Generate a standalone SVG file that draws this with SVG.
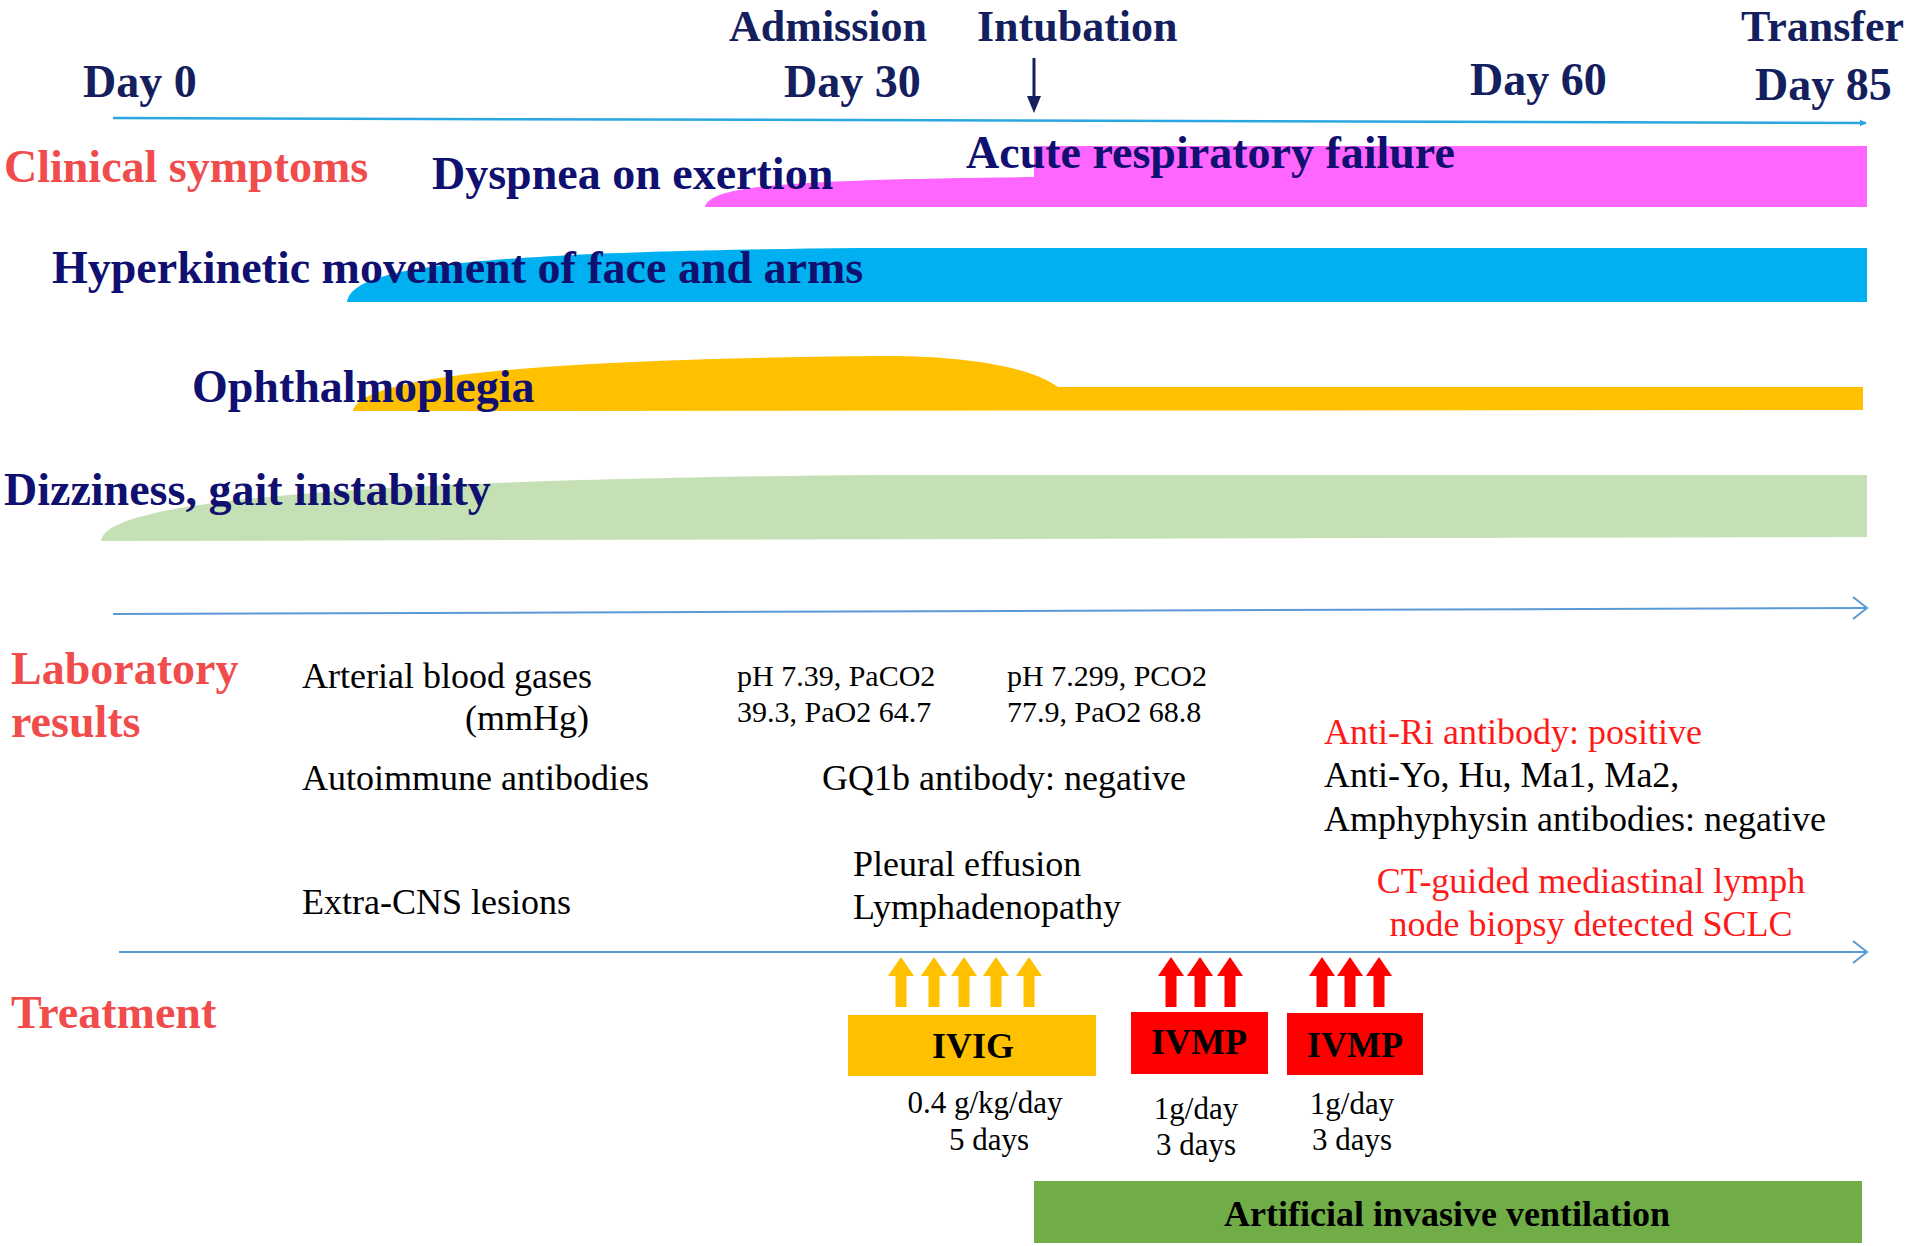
<svg xmlns="http://www.w3.org/2000/svg" width="1907" height="1246" viewBox="0 0 1907 1246">
<defs>
<style>
text{font-family:"Liberation Serif","Times New Roman",serif}
.hd{font-size:46px;font-weight:bold;fill:#14205e}
.top{font-size:44px;font-weight:bold;fill:#14205e}
.sym{font-size:46px;font-weight:bold;fill:#101070}
.sec{font-size:46px;font-weight:bold;fill:#f04c4c}
.lab{font-size:36px;fill:#000}
.val{font-size:30px;fill:#000}
.red{fill:#ff1a1a}
.tr{font-size:36px;font-weight:bold;fill:#000;text-anchor:middle}
.dose{font-size:31px;fill:#000;text-anchor:middle}
.ax1{stroke:#2aa6e0;stroke-width:2.5;fill:none}
.ax2{stroke:#5b9bd5;stroke-width:2;fill:none}
</style>
<marker id="tri" viewBox="0 0 10 10" refX="9" refY="5" markerWidth="7" markerHeight="7" orient="auto" markerUnits="userSpaceOnUse">
<path d="M0,0 L10,5 L0,10 Z" fill="#2aa6e0"/>
</marker>
<symbol id="upO" viewBox="0 0 26 50" overflow="visible">
<path d="M13,0 L26,19 L18.5,19 L18.5,50 L7.5,50 L7.5,19 L0,19 Z"/>
</symbol>
</defs>
<rect width="1907" height="1246" fill="#fff"/>

<g id="bars">
<path id="bar-dyspnea" d="M705,207 C710,186 780,180 1034,177 L1034,146 L1867,146 L1867,207 Z" fill="#ff66ff"/>
<path id="bar-hyper" d="M347,302 C352,268 460,252 860,248 L1867,248 L1867,302 Z" fill="#00b0f0"/>
<path id="bar-ophth" d="M353,411 C360,383 470,360 876,356 C960,355 1030,366 1058,387 L1863,387 L1863,410 Z" fill="#ffc000"/>
<path id="bar-dizzy" d="M101,541 C104,505 300,480 876,475 L1867,475 L1867,537 Z" fill="#c5e0b4"/>
</g>

<g id="connectors">
<line class="ax1" x1="113" y1="118" x2="1866" y2="123" marker-end="url(#tri)"/>
<line x1="1034" y1="58" x2="1034" y2="98" stroke="#14205e" stroke-width="3"/>
<path d="M1027,96 L1041,96 L1034,113 Z" fill="#14205e"/>
<line class="ax2" x1="113" y1="614" x2="1866" y2="608"/>
<polyline class="ax2" points="1853,597 1867,608 1853,619"/>
<line class="ax2" x1="119" y1="952" x2="1866" y2="952"/>
<polyline class="ax2" points="1853,941 1867,952 1853,963"/>
</g>

<g id="timeline-labels">
<text class="top" x="729" y="41">Admission</text>
<text class="top" x="977" y="41">Intubation</text>
<text class="top" x="1904" y="41" text-anchor="end">Transfer</text>
<text class="hd" x="83" y="97">Day 0</text>
<text class="hd" x="784" y="97">Day 30</text>
<text class="hd" x="1470" y="95">Day 60</text>
<text class="hd" x="1755" y="100">Day 85</text>
</g>

<g id="clinical">
<text class="sec" x="4" y="182">Clinical symptoms</text>
<text class="sym" x="432" y="189">Dyspnea on exertion</text>
<text class="sym" x="966" y="168">Acute respiratory failure</text>
<text class="sym" x="52" y="283">Hyperkinetic movement of face and arms</text>
<text class="sym" x="192" y="402">Ophthalmoplegia</text>
<text class="sym" x="4" y="505">Dizziness, gait instability</text>
</g>

<g id="laboratory">
<text class="sec" x="11" y="684">Laboratory</text>
<text class="sec" x="11" y="737">results</text>
<text class="lab" x="302" y="688">Arterial blood gases</text>
<text class="lab" x="589" y="730" text-anchor="end">(mmHg)</text>
<text class="val" x="737" y="686">pH 7.39, PaCO2</text>
<text class="val" x="737" y="722">39.3, PaO2 64.7</text>
<text class="val" x="1007" y="686">pH 7.299, PCO2</text>
<text class="val" x="1007" y="722">77.9, PaO2 68.8</text>
<text class="lab" x="302" y="790">Autoimmune antibodies</text>
<text class="lab" x="822" y="790">GQ1b antibody: negative</text>
<text class="lab red" x="1324" y="744">Anti-Ri antibody: positive</text>
<text class="lab" x="1324" y="787">Anti-Yo, Hu, Ma1, Ma2,</text>
<text class="lab" x="1324" y="831">Amphyphysin antibodies: negative</text>
<text class="lab" x="302" y="914">Extra-CNS lesions</text>
<text class="lab" x="853" y="876">Pleural effusion</text>
<text class="lab" x="853" y="919">Lymphadenopathy</text>
<text class="lab red" x="1591" y="893" text-anchor="middle">CT-guided mediastinal lymph</text>
<text class="lab red" x="1591" y="936" text-anchor="middle">node biopsy detected SCLC</text>
</g>

<g id="treatment">
<text class="sec" x="11" y="1028">Treatment</text>
<g id="ivig-arrows" fill="#ffc000">
<use href="#upO" x="888" y="957" width="26" height="50"/>
<use href="#upO" x="921" y="957" width="26" height="50"/>
<use href="#upO" x="951" y="957" width="26" height="50"/>
<use href="#upO" x="983" y="957" width="26" height="50"/>
<use href="#upO" x="1016" y="957" width="26" height="50"/>
</g>
<g id="ivmp-arrows" fill="#ff0000">
<use href="#upO" x="1157" y="957" width="28" height="50"/>
<use href="#upO" x="1186" y="957" width="28" height="50"/>
<use href="#upO" x="1216" y="957" width="28" height="50"/>
<use href="#upO" x="1308" y="957" width="28" height="50"/>
<use href="#upO" x="1336" y="957" width="28" height="50"/>
<use href="#upO" x="1365" y="957" width="28" height="50"/>
</g>
<g id="ivig">
<rect x="848" y="1015" width="248" height="61" fill="#ffc000"/>
<text class="tr" x="973" y="1058">IVIG</text>
<text class="dose" x="985" y="1113">0.4 g/kg/day</text>
<text class="dose" x="989" y="1150">5 days</text>
</g>
<g id="ivmp1">
<rect x="1131" y="1012" width="137" height="62" fill="#ff0000"/>
<text class="tr" x="1199" y="1054">IVMP</text>
<text class="dose" x="1196" y="1119">1g/day</text>
<text class="dose" x="1196" y="1155">3 days</text>
</g>
<g id="ivmp2">
<rect x="1287" y="1013" width="136" height="62" fill="#ff0000"/>
<text class="tr" x="1355" y="1057">IVMP</text>
<text class="dose" x="1352" y="1114">1g/day</text>
<text class="dose" x="1352" y="1150">3 days</text>
</g>
<g id="ventilation">
<rect x="1034" y="1181" width="828" height="62" fill="#70ad47"/>
<text class="tr" x="1447" y="1226">Artificial invasive ventilation</text>
</g>
</g>
</svg>
